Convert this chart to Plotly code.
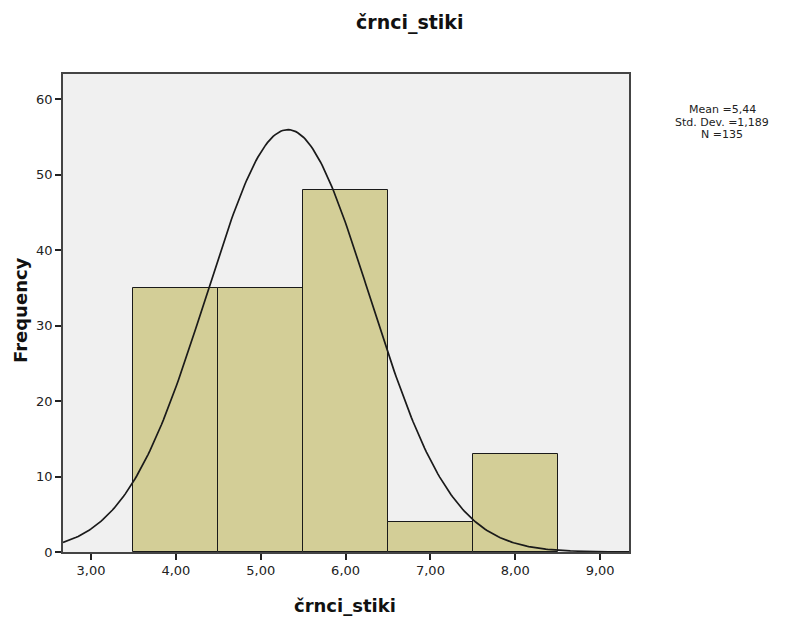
import numpy as np
import plotly.graph_objects as go

# Histogram data
bin_centers = [4.0, 5.0, 6.0, 7.0, 8.0]
frequencies = [35, 35, 48, 4, 13]
bin_width = 1.0

# Normal curve parameters (as drawn)
curve_mean = 5.32
curve_sd = 0.962
curve_n = 135

x_tick_vals = [3, 4, 5, 6, 7, 8, 9]
x_tick_text = ["3,00", "4,00", "5,00", "6,00", "7,00", "8,00", "9,00"]
y_tick_vals = [0, 10, 20, 30, 40, 50, 60]

stats_lines = ["Mean =5,44", "Std. Dev. =1,189", "N =135"]

title_text = "črnci_stiki"
x_title = "črnci_stiki"
y_title = "Frequency"

x_range = [2.67, 9.34]
y_range = [0, 63.36]

xs = np.linspace(x_range[0], x_range[1], 300)
ys = curve_n * bin_width / (curve_sd * np.sqrt(2 * np.pi)) * np.exp(-0.5 * ((xs - curve_mean) / curve_sd) ** 2)

fig = go.Figure()
fig.add_trace(go.Bar(
    x=bin_centers, y=frequencies, width=bin_width,
    marker=dict(color="#D3CE97", line=dict(color="#1a1a1a", width=1)),
    showlegend=False, hoverinfo="x+y",
))
fig.add_trace(go.Scatter(
    x=xs, y=ys, mode="lines",
    line=dict(color="#1a1a1a", width=1.7),
    showlegend=False,
))

font_family = "DejaVu Sans, Liberation Sans, Arial, sans-serif"
W, H = 789, 622
L, R, T, B = 63, 160, 74, 70
pw, ph = W - L - R, H - T - B

def px_to_paper_x(px):
    return (px - L) / pw

def px_to_paper_y(py):
    return (H - B - py) / ph

annotations = [
    dict(text="<b>%s</b>" % title_text, xref="paper", yref="paper",
         x=px_to_paper_x(410), y=px_to_paper_y(22), xanchor="center", yanchor="middle",
         showarrow=False, font=dict(size=19, color="#111111")),
    dict(text="<b>%s</b>" % x_title, xref="paper", yref="paper",
         x=px_to_paper_x(345), y=px_to_paper_y(605), xanchor="center", yanchor="middle",
         showarrow=False, font=dict(size=18, color="#111111")),
    dict(text="<b>%s</b>" % y_title, xref="paper", yref="paper", textangle=-90,
         x=px_to_paper_x(20), y=px_to_paper_y(310), xanchor="center", yanchor="middle",
         showarrow=False, font=dict(size=18, color="#111111")),
]
for i, line in enumerate(stats_lines):
    annotations.append(dict(
        text=line, xref="paper", yref="paper",
        x=px_to_paper_x(722), y=px_to_paper_y(110 + i * 12),
        xanchor="center", yanchor="middle", showarrow=False,
        font=dict(size=11, color="#222222"),
    ))

fig.update_layout(
    width=W, height=H,
    margin=dict(l=L, r=R, t=T, b=B, autoexpand=False),
    paper_bgcolor="white",
    plot_bgcolor="#F0F0F0",
    font=dict(family=font_family, color="#222222", size=13),
    bargap=0,
    xaxis=dict(
        range=x_range, tickmode="array", tickvals=x_tick_vals, ticktext=x_tick_text,
        ticks="outside", ticklen=6, tickwidth=1.5, tickcolor="#222222",
        showline=True, linecolor="#444444", linewidth=1.5, mirror=True,
        showgrid=False, zeroline=False, automargin=False,
        tickfont=dict(size=13, color="#222222"),
    ),
    yaxis=dict(
        range=y_range, tickmode="array", tickvals=y_tick_vals,
        ticks="outside", ticklen=6, tickwidth=1.5, tickcolor="#222222",
        showline=True, linecolor="#444444", linewidth=1.5, mirror=True,
        showgrid=False, zeroline=False, automargin=False,
        tickfont=dict(size=13, color="#222222"),
    ),
    annotations=annotations,
)

fig.write_html(
    "out.html",
    config={"displayModeBar": False},
    post_script="document.body.style.margin='0';document.body.style.padding='0';",
)
